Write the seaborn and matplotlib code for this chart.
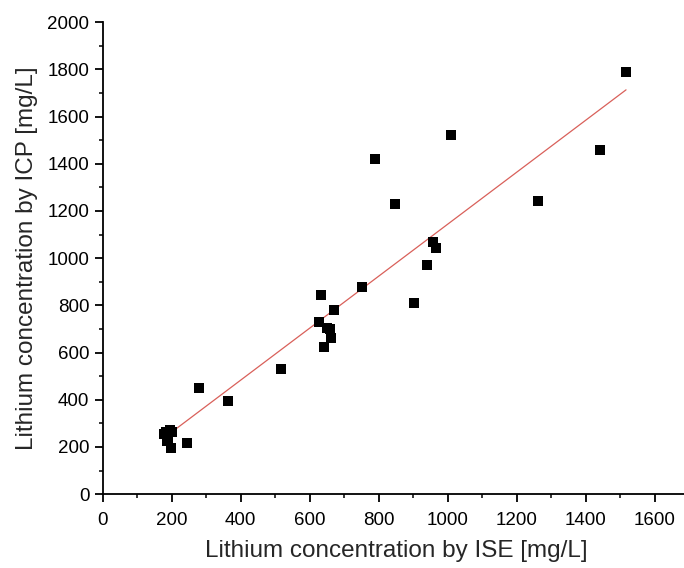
import numpy as np
import pandas as pd
import matplotlib
matplotlib.use("Agg")
import matplotlib.pyplot as plt
import seaborn as sns
from matplotlib.ticker import MultipleLocator

ise = [1517, 1442, 1262, 1010, 790, 848, 957, 965, 940, 752, 903, 670,
       632, 626, 650, 660, 662, 642, 516, 278, 362, 244,
       178, 185, 195, 200, 190, 188, 197]
icp = [1790, 1460, 1243, 1520, 1420, 1230, 1070, 1045, 970, 878, 810, 780,
       845, 730, 705, 700, 662, 623, 530, 449, 394, 216,
       255, 265, 270, 262, 240, 225, 195]

df = pd.DataFrame({"ISE": ise, "ICP": icp})

sns.set_style("ticks")
plt.rcParams["font.family"] = ["Liberation Sans", "DejaVu Sans"]

fig = plt.figure(figsize=(6.84, 5.68), dpi=100)
ax = fig.add_axes([0.150, 0.130, 0.850, 0.831])

# linear fit drawn over data range
coef = np.polyfit(df["ISE"], df["ICP"], 1)
xfit = np.array([df["ISE"].min(), df["ISE"].max()])
fit = pd.DataFrame({"x": xfit, "y": np.polyval(coef, xfit)})
sns.lineplot(data=fit, x="x", y="y", ax=ax, color="#d9605a", lw=0.9, zorder=2)

sns.scatterplot(data=df, x="ISE", y="ICP", ax=ax, marker="s", s=62,
                color="black", edgecolor="black", linewidth=0, zorder=3)

ax.set_xlim(0, 1685)
ax.set_ylim(0, 2000)
ax.xaxis.set_major_locator(MultipleLocator(200))
ax.xaxis.set_minor_locator(MultipleLocator(100))
ax.yaxis.set_major_locator(MultipleLocator(200))
ax.yaxis.set_minor_locator(MultipleLocator(100))
ax.tick_params(which="major", direction="out", length=6, width=1.3,
               labelsize=13.5, colors="black")
ax.tick_params(axis="x", which="major", pad=7)
ax.tick_params(axis="y", which="major", pad=3.5)
ax.tick_params(which="minor", direction="out", length=3, width=1.3)
for s in ["top", "right"]:
    ax.spines[s].set_visible(False)
for s in ["left", "bottom"]:
    ax.spines[s].set_linewidth(1.3)
    ax.spines[s].set_color("black")

ax.set_xlabel("Lithium concentration by ISE [mg/L]", fontsize=17.5)
ax.set_ylabel("Lithium concentration by ICP [mg/L]", fontsize=17.5)
ax.xaxis.set_label_coords(0.506, -0.097)
ax.yaxis.set_label_coords(-0.111, 0.5)

fig.savefig("out.png", dpi=100)
